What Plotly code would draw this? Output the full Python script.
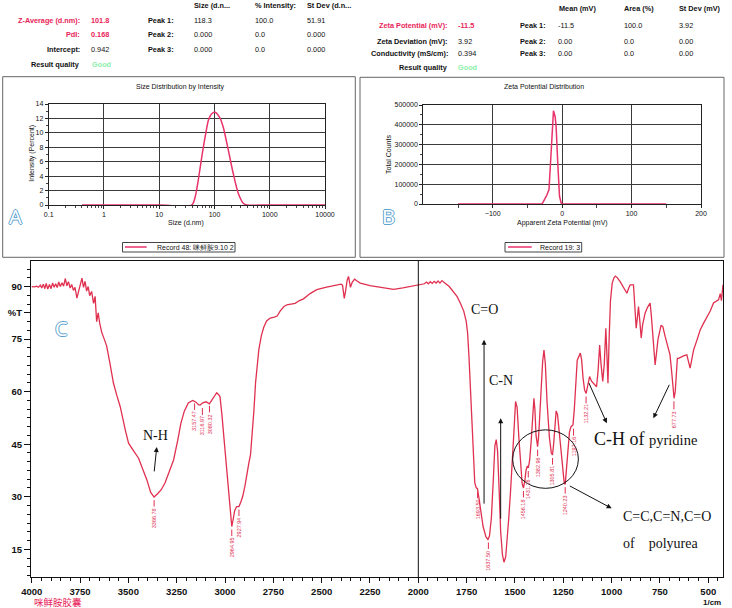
import plotly.graph_objects as go

W, H = 732, 608
def px(x): return x / W
def py(y): return 1 - y / H

# ---------------- data ----------------
# Panel A: size distribution by intensity
size_nm = [0.4, 1, 10, 39, 45, 51, 59, 68, 78, 89, 102, 126, 145, 178, 218, 270, 336, 386, 1000, 10000]
intensity = [0, 0, 0, 0, 1.2, 3.5, 6.7, 9.5, 11.8, 12.65, 12.85, 12.05, 10.7, 7.6, 4.4, 1.6, 0.2, 0, 0, 0]

# Panel B: zeta potential distribution
zeta_mv = [-150, -29, -23, -19, -17.3, -14.4, -12.5, -10.1, -8.7, -6.3, -3.8, -1.4, 0, 150]
zeta_counts = [0, 0, 38000, 72000, 173000, 374000, 471000, 441000, 391000, 206000, 39000, 5000, 0, 0]

# Panel C: FTIR spectrum
ir_wn = [4000, 3985, 3975, 3965, 3955, 3948, 3940, 3932, 3925, 3917, 3908, 3900, 3892, 3884, 3876, 3868,
         3860, 3852, 3843, 3835, 3826, 3818, 3810, 3801, 3793, 3784, 3776, 3766, 3758, 3748, 3740, 3732,
         3724, 3716, 3708, 3700, 3690, 3680, 3672, 3664, 3656, 3648, 3638, 3628, 3612, 3595, 3577, 3560,
         3542, 3516, 3499, 3472, 3447, 3425, 3404, 3385, 3367, 3350, 3330, 3310, 3288, 3266, 3245, 3228,
         3210, 3190, 3167, 3150, 3138, 3129, 3115, 3098, 3081, 3065, 3050, 3043, 3034, 3026, 3017, 3008,
         2999, 2990, 2980, 2972, 2965, 2958, 2950, 2940, 2928, 2918, 2908, 2897, 2887, 2877, 2868, 2858,
         2850, 2842, 2834, 2825, 2812, 2800, 2785, 2766, 2745, 2730, 2715, 2695, 2680, 2660, 2637, 2615,
         2594, 2560, 2525, 2480, 2439, 2400, 2392, 2387, 2383, 2377, 2368, 2361, 2356, 2351, 2342, 2330,
         2315, 2300, 2250, 2214, 2170, 2128, 2080, 2040, 2007, 1985, 1968, 1958, 1948, 1938, 1928, 1918,
         1908, 1898, 1888, 1878, 1868, 1858, 1840, 1818, 1800, 1783, 1765, 1752, 1745, 1738, 1731, 1724,
         1716, 1708, 1701, 1694, 1686, 1675, 1665, 1650, 1640, 1632, 1622, 1612, 1604, 1597, 1590, 1582,
         1574, 1565, 1557, 1548, 1540, 1532, 1523, 1515, 1506, 1497, 1489, 1480, 1472, 1463, 1456, 1449,
         1443, 1436, 1431, 1424, 1416, 1409, 1402, 1397, 1391, 1383, 1378, 1372, 1365, 1357, 1350, 1343,
         1334, 1322, 1312, 1306, 1300, 1293, 1287, 1280, 1272, 1262, 1252, 1245, 1240, 1233, 1226, 1218,
         1210, 1200, 1193, 1185, 1178, 1162, 1155, 1148, 1140, 1132, 1124, 1114, 1104, 1094, 1085, 1078,
         1070, 1062, 1055, 1046, 1038, 1030, 1024, 1019, 1013, 1006, 997, 988, 980, 970, 956, 940,
         921, 912, 904, 887, 880, 873, 867, 861, 854, 847, 840, 827, 815, 801, 795, 788,
         780, 775, 768, 760, 744, 735, 723, 715, 706, 698, 690, 682, 677, 671, 665, 660,
         654, 640, 625, 611, 600, 594, 586, 576, 560, 542, 525, 507, 490, 473, 460, 447,
         438, 432, 424]
ir_T = [90.0, 89.9, 90.1, 89.8, 90.4, 89.6, 90.7, 89.4, 90.9, 89.3, 90.6, 89.4, 91.0, 89.8, 90.8, 89.7,
        91.3, 90.0, 91.1, 90.1, 92.3, 90.2, 91.4, 89.6, 90.6, 88.9, 89.8, 86.7, 88.5, 91.0, 92.4, 89.8,
        91.5, 88.7, 90.0, 87.4, 88.6, 85.2, 87.2, 80.0, 82.5, 79.5, 77.0, 75.5, 73.0, 68.0, 62.4, 59.0,
        55.7, 49.1, 45.3, 43.0, 41.0, 37.8, 34.8, 31.3, 29.9, 30.8, 32.0, 34.0, 37.0, 40.5, 46.0, 51.0,
        54.5, 56.8, 57.5, 57.0, 56.3, 56.2, 56.8, 57.1, 56.5, 57.8, 59.3, 59.7, 59.2, 58.6, 54.0, 48.5,
        43.0, 37.5, 30.5, 25.0, 21.5, 23.5, 26.0, 27.2, 27.2, 28.5, 30.2, 33.0, 37.0, 39.5, 42.0, 48.0,
        55.0, 62.5, 67.5, 72.0, 76.0, 78.3, 80.2, 81.0, 81.3, 81.6, 83.0, 84.3, 84.8, 85.0, 85.2, 86.0,
        86.5, 88.0, 89.1, 89.8, 90.3, 90.7, 90.4, 88.0, 86.6, 88.5, 91.8, 92.9, 91.0, 89.8, 91.2, 92.1,
        91.5, 91.0, 90.3, 90.0, 89.5, 89.2, 89.6, 90.0, 90.2, 90.5, 90.8, 91.3, 90.8, 91.4, 90.9, 91.5,
        91.0, 91.6, 91.0, 91.7, 91.1, 90.8, 90.0, 88.6, 87.2, 85.3, 83.0, 80.0, 76.7, 70.0, 62.4, 52.0,
        42.0, 34.0, 32.6, 32.3, 29.5, 25.0, 21.5, 18.5, 17.8, 18.8, 24.0, 35.0, 44.5, 46.3, 43.0, 32.0,
        20.0, 13.5, 11.3, 12.8, 17.5, 24.0, 31.5, 38.0, 48.0, 57.2, 55.5, 47.0, 39.5, 33.8, 32.5, 34.5,
        37.5, 38.8, 38.2, 40.5, 46.0, 53.0, 58.1, 55.0, 47.5, 44.3, 47.0, 53.0, 61.0, 68.5, 71.9, 68.0,
        57.0, 47.0, 42.5, 41.9, 45.0, 50.5, 54.5, 53.5, 49.0, 41.5, 36.0, 33.8, 33.6, 38.5, 45.0, 48.5,
        50.0, 50.5, 55.0, 63.0, 69.0, 71.0, 69.0, 64.0, 60.5, 59.5, 62.0, 64.3, 63.0, 62.4, 61.6, 61.4,
        66.0, 73.3, 68.0, 62.9, 68.0, 78.1, 70.0, 62.4, 75.0, 86.0, 91.0, 92.5, 93.0, 92.5, 91.4, 90.0,
        88.1, 89.5, 90.5, 90.5, 85.0, 78.1, 81.0, 84.3, 80.0, 75.3, 79.0, 82.4, 84.0, 85.3, 82.0, 76.0,
        70.0, 67.6, 71.0, 75.0, 79.0, 78.5, 75.7, 74.0, 71.9, 70.5, 66.0, 61.0, 58.1, 60.0, 66.0, 69.5,
        69.5, 70.0, 70.3, 70.5, 68.0, 66.7, 69.0, 71.9, 74.5, 77.6, 79.5, 81.4, 83.0, 85.3, 85.8, 86.2,
        88.0, 86.0, 90.5]

peak_lbl = ["3366.78", "3157.47", "3116.97", "3080.32", "2964.95", "2927.94", "1693.50", "1637.50",
            "1456.18", "1431.16", "1382.96", "1305.81", "1240.23", "1197.16", "1132.21", "677.73"]
peak_T = [29.9, 57.5, 56.2, 56.8, 21.5, 27.2, 32.3, 17.8, 32.5, 38.2, 44.3, 41.9, 33.6, 50.3, 59.5, 58.1]

# tables
left_rows = [("Z-Average (d.nm):", "101.8", True), ("PdI:", "0.168", True), ("Intercept:", "0.942", False)]
left_heads = ["Size (d.n...", "% Intensity:", "St Dev (d.n..."]
left_peaks = [["118.3", "100.0", "51.91"], ["0.000", "0.0", "0.000"], ["0.000", "0.0", "0.000"]]
right_rows = [("Zeta Potential (mV):", "-11.5", True), ("Zeta Deviation (mV):", "3.92", False),
              ("Conductivity (mS/cm):", "0.394", False)]
right_heads = ["Mean (mV)", "Area (%)", "St Dev (mV)"]
right_peaks = [["-11.5", "100.0", "3.92"], ["0.00", "0.0", "0.00"], ["0.00", "0.0", "0.00"]]

# ---------------- styling ----------------
F = "Liberation Sans"
SERIF = "Liberation Serif"
RED = "#e8336b"
IRRED = "#e0304f"
CRIM = "#e8245a"
GREEN = "#8cf0ab"
GRID = "#3a3a3a"

fig = go.Figure()
fig.add_trace(go.Scatter(x=size_nm, y=intensity, xaxis="x", yaxis="y", mode="lines",
                         line=dict(color=RED, width=1.5, shape="spline", smoothing=0.7)))
fig.add_trace(go.Scatter(x=zeta_mv, y=zeta_counts, xaxis="x2", yaxis="y2", mode="lines",
                         line=dict(color=RED, width=1.5)))
fig.add_trace(go.Scatter(x=ir_wn, y=ir_T, xaxis="x3", yaxis="y3", mode="lines",
                         line=dict(color=IRRED, width=1.3)))

small = dict(size=7, family=F, color="#111")
minor_log = [m * 10 ** e for e in range(-1, 4) for m in range(2, 10)]

fig.update_layout(
    template="none",
    width=W, height=H, margin=dict(l=0, r=0, t=0, b=0, pad=0, autoexpand=False),
    paper_bgcolor="white", plot_bgcolor="white", showlegend=False,
    xaxis=dict(domain=[px(48.7), px(325)], anchor="y", type="log", range=[-1, 4], automargin=False,
               tickvals=[0.1, 1, 10, 100, 1000, 10000], ticktext=["0.1", "1", "10", "100", "1000", "10000"],
               showline=True, mirror=True, linecolor="#222", linewidth=1, showgrid=True, gridcolor=GRID,
               gridwidth=1.2, ticks="outside", ticklen=3, tickcolor="#222", tickfont=small, zeroline=False,
               minor=dict(tickvals=minor_log, ticks="outside", ticklen=2, tickcolor="#444", showgrid=False)),
    yaxis=dict(domain=[py(205), py(104)], anchor="x", range=[0, 14], dtick=2, automargin=False,
               showline=True, mirror=True, linecolor="#222", linewidth=1, showgrid=True, gridcolor=GRID,
               gridwidth=1.2, ticks="outside", ticklen=3, tickcolor="#222", tickfont=small, zeroline=False,
               minor=dict(dtick=1, ticks="outside", ticklen=2, tickcolor="#444", showgrid=False)),
    xaxis2=dict(domain=[px(423.3), px(701)], anchor="y2", range=[-200, 200], automargin=False,
                tickvals=[-100, 0, 100, 200], showline=True, mirror=True, linecolor="#222", linewidth=1,
                showgrid=True, gridcolor=GRID, gridwidth=1.2, ticks="outside", ticklen=3, tickcolor="#222",
                tickfont=small, zeroline=False,
                minor=dict(tickvals=[-150, -50, 50, 150], ticks="outside", ticklen=3, tickcolor="#444",
                           showgrid=False)),
    yaxis2=dict(domain=[py(204), py(105)], anchor="x2", range=[0, 500000], dtick=100000, automargin=False,
                tickformat="d", showline=True, mirror=True, linecolor="#222", linewidth=1,
                showgrid=True, gridcolor=GRID, gridwidth=1.2, ticks="outside", ticklen=3, tickcolor="#222",
                tickfont=small, zeroline=False,
                minor=dict(dtick=50000, ticks="outside", ticklen=2, tickcolor="#444", showgrid=False)),
    xaxis3=dict(domain=[px(31), px(723)], anchor="y3", range=[4003.6, 423.9], tick0=0, dtick=250,
                automargin=False, showline=True, mirror=True, linecolor="#111", linewidth=1.2, showgrid=False,
                ticks="outside", ticklen=5, tickcolor="#111", zeroline=False,
                tickfont=dict(size=9.5, family=F, color="#111", weight="bold"),
                minor=dict(dtick=50, ticks="outside", ticklen=3, tickcolor="#111")),
    yaxis3=dict(domain=[py(577.3), py(261)], anchor="x3", range=[7.0, 97.3], automargin=False,
                tickvals=[15, 30, 45, 60, 75, 82.5, 90], ticktext=["15", "30", "45", "60", "75", "%T", "90"],
                showline=True, mirror=True, linecolor="#111", linewidth=1.2, showgrid=False,
                ticks="outside", ticklen=6, tickcolor="#111", zeroline=False,
                tickfont=dict(size=9.5, family=F, color="#111", weight="bold"),
                minor=dict(dtick=2.5, tick0=0, ticks="outside", ticklen=3, tickcolor="#111")),
)

shapes = []
ann = []

def txt(x, y, s, size=7.3, color="#111", bold=True, xa="left", family=F, angle=0):
    ann.append(dict(x=px(x), y=py(y), xref="paper", yref="paper", text=s, showarrow=False,
                    xanchor=xa, yanchor="middle", textangle=angle,
                    font=dict(size=size, color=color, family=family, weight="bold" if bold else "normal")))

# ---- left table ----
for (lab, val, red), yy in zip(left_rows, [21, 34.3, 49.3]):
    txt(81.7, yy, lab, color=CRIM if red else "#111", xa="right")
    txt(88.5, yy, val, color=CRIM if red else "#111", bold=red)
txt(81.7, 64, "Result quality", xa="right")
txt(89.5, 64, "Good", color=GREEN)
for h, xx in zip(left_heads, [191.7, 252.7, 305]):
    txt(xx, 6, h)
for i, yy in enumerate([21, 34.3, 49.3]):
    txt(175.7, yy, f"Peak {i+1}:", xa="right")
    for v, xx in zip(left_peaks[i], [191.7, 252.7, 305]):
        txt(xx, yy, v, bold=False)

# ---- right table ----
for (lab, val, red), yy in zip(right_rows, [25, 41, 53.3]):
    txt(450, yy, lab, color=CRIM if red else "#111", xa="right")
    txt(456, yy, val, color=CRIM if red else "#111", bold=red)
txt(450, 67.7, "Result quality", xa="right")
txt(456, 67.7, "Good", color=GREEN)
for h, xx in zip(right_heads, [556.7, 622.3, 676.7]):
    txt(xx, 9, h)
for i, yy in enumerate([25, 41, 53.3]):
    txt(548.3, yy, f"Peak {i+1}:", xa="right")
    for v, xx in zip(right_peaks[i], [556, 622, 676.7]):
        txt(xx, yy, v, bold=False)

# ---- panel boxes ----
shapes.append(dict(type="rect", xref="paper", yref="paper", x0=px(2.7), x1=px(355.3), y0=py(257.3), y1=py(76.7),
                   line=dict(color="#666", width=1)))
shapes.append(dict(type="rect", xref="paper", yref="paper", x0=px(360), x1=px(724), y0=py(257.3), y1=py(77.3),
                   line=dict(color="#666", width=1)))

# panel titles / axis titles
txt(180, 86.7, "Size Distribution by Intensity", size=7, bold=False, xa="center")
txt(31.7, 153, "Intensity (Percent)", size=7, bold=False, xa="center", angle=-90)
txt(186, 223, "Size (d.nm)", size=7, bold=False, xa="center")
txt(544, 87, "Zeta Potential Distribution", size=7, bold=False, xa="center")
txt(389, 155, "Total Counts", size=7, bold=False, xa="center", angle=-90)
txt(562, 223, "Apparent Zeta Potential (mV)", size=7, bold=False, xa="center")

# legends
shapes.append(dict(type="rect", xref="paper", yref="paper", x0=px(122.5), x1=px(235), y0=py(252), y1=py(242.5),
                   line=dict(color="#444", width=1)))
shapes.append(dict(type="line", xref="paper", yref="paper", x0=px(125), x1=px(146.7), y0=py(247), y1=py(247),
                   line=dict(color=RED, width=1.5)))
txt(155, 247, "Record 48: 咪鲜胺9.10 2", size=7, bold=False)
shapes.append(dict(type="rect", xref="paper", yref="paper", x0=px(505), x1=px(581.7), y0=py(252), y1=py(242.5),
                   line=dict(color="#444", width=1)))
shapes.append(dict(type="line", xref="paper", yref="paper", x0=px(508), x1=px(531.7), y0=py(247), y1=py(247),
                   line=dict(color=RED, width=1.5)))
txt(538, 247, "Record 19: 3", size=7, bold=False)

# panel letters (outlined light blue)
OUT = "#5fa3cf"
shadow = f"1px 0 0 {OUT}, -1px 0 0 {OUT}, 0 1px 0 {OUT}, 0 -1px 0 {OUT}"
for (xx, yy, s) in [(15.5, 217, "A"), (388, 216, "B"), (61.7, 328.3, "C")]:
    ann.append(dict(x=px(xx), y=py(yy), xref="paper", yref="paper", text=s, showarrow=False,
                    xanchor="center", yanchor="middle",
                    font=dict(size=20, color="white", family="Noto Sans", shadow=shadow)))

# ---- panel C extras ----
shapes.append(dict(type="line", xref="x3", yref="y3 domain", x0=2000, x1=2000, y0=0, y1=1,
                   line=dict(color="#111", width=1)))

# peak labels
for lbl, t in zip(peak_lbl, peak_T):
    ann.append(dict(x=float(lbl), y=t, xref="x3", yref="y3", text=lbl, textangle=-90,
                    showarrow=True, arrowhead=0, arrowwidth=1, arrowcolor=IRRED, ax=0, ay=21,
                    standoff=3, font=dict(size=5.5, family=F, color=IRRED)))

# black annotation arrows (data coords)
def arrow(x0, y0, x1, y1):
    ann.append(dict(x=x1, y=y1, ax=x0, ay=y0, xref="x3", yref="y3", axref="x3", ayref="y3", text="",
                    showarrow=True, arrowhead=2, arrowsize=1, arrowwidth=1, arrowcolor="#111"))

arrow(3367, 36.8, 3353, 44.2)      # N-H
arrow(1660, 27.6, 1660, 74.8)      # C=O
arrow(1574, 23.3, 1574, 52.4)      # C-N
arrow(1121, 62.9, 1025, 51.0)      # C-H 1
arrow(698, 62.4, 784, 52.4)        # C-H 2
arrow(1224, 33.3, 1000, 26.7)      # circle -> polyurea

shapes.append(dict(type="circle", xref="x3", yref="y3", x0=1512, x1=1172, y0=32.4, y1=49.1,
                   line=dict(color="#111", width=1)))

txt(155.5, 435, "N-H", size=14, bold=False, xa="center", family=SERIF)
txt(484.5, 309.7, "C=O", size=14, bold=False, xa="center", family=SERIF)
txt(500.8, 380, "C-N", size=14, bold=False, xa="center", family=SERIF)
ann.append(dict(x=px(591.7), y=py(439.3), xref="paper", yref="paper", showarrow=False, xanchor="left",
                yanchor="middle", text="C-H of <span style='font-size:14.5px'>pyridine</span>",
                font=dict(size=18, family=SERIF, color="#111")))
txt(620.7, 516, "C=C,C=N,C=O", size=14, bold=False, family=SERIF)
txt(620.7, 543.3, "of&nbsp;&nbsp;&nbsp;&nbsp;polyurea", size=14, bold=False, family=SERIF)

txt(31.7, 601.7, "咪鲜胺胶囊", size=9.5, color=CRIM, bold=False, family="Noto Sans CJK SC")
txt(723, 602.7, "1/cm", size=8, xa="right")

fig.update_layout(shapes=shapes, annotations=ann)
fig.write_html("out.html", config={"displayModeBar": False},
               post_script="document.body.style.margin='0';document.body.style.padding='0';"
                           "document.documentElement.style.overflow='hidden';")
